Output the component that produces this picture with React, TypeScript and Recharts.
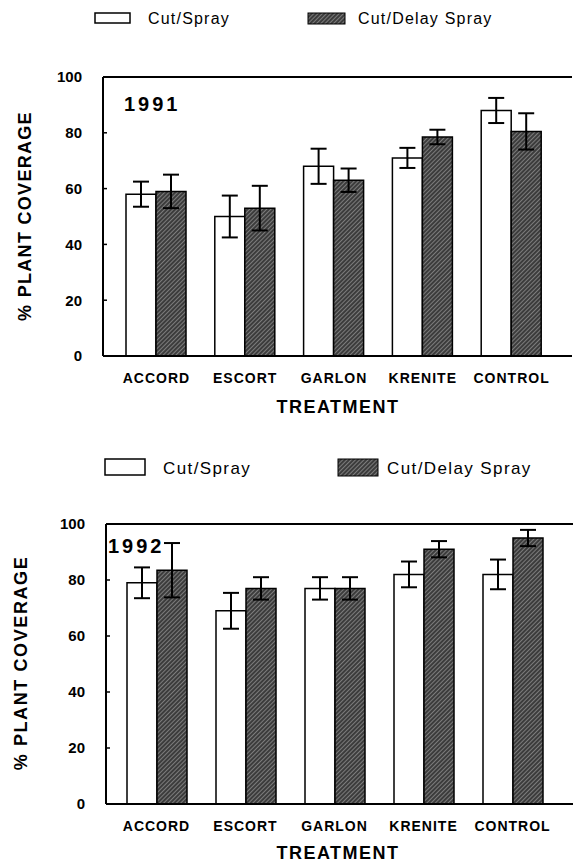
import React from 'react';
import { BarChart, Bar, XAxis, YAxis, ErrorBar, ReferenceLine } from 'recharts';

const categories = ['ACCORD', 'ESCORT', 'GARLON', 'KRENITE', 'CONTROL'];
const yTicks = [0, 20, 40, 60, 80, 100];

const cutSpray1991 = [58, 50, 68, 71, 88];
const cutSpray1991Err = [4.5, 7.5, 6.3, 3.6, 4.5];
const delaySpray1991 = [59, 53, 63, 78.5, 80.5];
const delaySpray1991Err = [6, 8, 4.2, 2.6, 6.5];

const cutSpray1992 = [79, 69, 77, 82, 82];
const cutSpray1992Err = [5.5, 6.4, 4, 4.6, 5.3];
const delaySpray1992 = [83.5, 77, 77, 91, 95];
const delaySpray1992Err = [9.7, 4, 4, 2.9, 2.9];

const data1991 = categories.map((c, i) => ({
  name: c,
  cut: cutSpray1991[i],
  cutErr: cutSpray1991Err[i],
  delay: delaySpray1991[i],
  delayErr: delaySpray1991Err[i],
}));
const data1992 = categories.map((c, i) => ({
  name: c,
  cut: cutSpray1992[i],
  cutErr: cutSpray1992Err[i],
  delay: delaySpray1992[i],
  delayErr: delaySpray1992Err[i],
}));

const FONT = 'Liberation Sans, Arial, Helvetica, sans-serif';

const Hatch = ({ id }: { id: string }) => (
  <defs>
    <pattern id={id} patternUnits="userSpaceOnUse" width="3" height="3" patternTransform="rotate(45)">
      <rect width="3" height="3" fill="#3c3c3c" />
      <line x1="0" y1="0" x2="0" y2="3" stroke="#a8a8a8" strokeWidth="1.2" />
    </pattern>
  </defs>
);

type PanelProps = {
  data: any[];
  id: string;
  height: number;
  top: number;
  bottom: number;
  left: number;
  right: number;
  padLeft: number;
  padRight: number;
};

const Panel = ({ data, id, height, top, bottom, left, right, padLeft, padRight }: PanelProps) => (
  <BarChart
    width={573}
    height={height}
    data={data}
    margin={{ top, right, bottom, left: 0 }}
    barSize={30}
    barGap={0}
  >
    <Hatch id={id} />
    <XAxis
      dataKey="name"
      height={30}
      tickLine={false}
      tickSize={0}
      tickMargin={17}
      padding={{ left: padLeft, right: padRight }}
      axisLine={{ stroke: '#000', strokeWidth: 2 }}
      tick={{ fontSize: 14, fontWeight: 'bold', fill: '#000', fontFamily: FONT, letterSpacing: 1 }}
      interval={0}
    />
    <YAxis
      width={left}
      domain={[0, 100]}
      ticks={yTicks}
      interval={0}
      tickSize={-4}
      tickMargin={25}
      axisLine={{ stroke: '#000', strokeWidth: 2 }}
      tickLine={{ stroke: '#000', strokeWidth: 1.5 }}
      tick={{ fontSize: 15, fontWeight: 'bold', fill: '#000', fontFamily: FONT }}
    />
    <YAxis
      yAxisId="right"
      orientation="right"
      width={0}
      domain={[0, 100]}
      tick={false}
      tickLine={false}
      axisLine={{ stroke: '#999', strokeWidth: 1, strokeDasharray: '3 3' }}
    />
    <ReferenceLine y={100} stroke="#000" strokeWidth={2} />
    <Bar dataKey="cut" fill="#fff" stroke="#000" strokeWidth={1.5} isAnimationActive={false}>
      <ErrorBar dataKey="cutErr" width={8} stroke="#000" strokeWidth={2} isAnimationActive={false} />
    </Bar>
    <Bar dataKey="delay" fill={`url(#${id})`} stroke="#000" strokeWidth={1.5} isAnimationActive={false}>
      <ErrorBar dataKey="delayErr" width={8} stroke="#000" strokeWidth={2} isAnimationActive={false} />
    </Bar>
  </BarChart>
);

export default function App() {
  return (
    <div style={{ position: 'absolute', left: 0, top: 0, width: 573, height: 863, background: '#fff', overflow: 'hidden' }}>
      <div style={{ position: 'absolute', left: 0, top: 0 }}>
        <Panel data={data1991} id="hatch1" height={420} top={77} bottom={34} left={103} right={1} padLeft={9} padRight={16} />
      </div>
      <div style={{ position: 'absolute', left: 0, top: 440 }}>
        <Panel data={data1992} id="hatch2" height={423} top={84} bottom={29} left={106} right={0} padLeft={6} padRight={16} />
      </div>
      <svg
        width={573}
        height={863}
        style={{ position: 'absolute', left: 0, top: 0, pointerEvents: 'none' }}
        fontFamily={FONT}
      >
        <Hatch id="hatchL" />
        {/* top legend */}
        <rect x={95} y={13} width={35} height={10} fill="#fff" stroke="#000" strokeWidth={1.5} />
        <text x={148} y={24} fontSize={16} letterSpacing={1.2} fill="#000">Cut/Spray</text>
        <rect x={308} y={13} width={37} height={11} fill="url(#hatchL)" stroke="#000" strokeWidth={1} />
        <text x={358} y={24} fontSize={16} letterSpacing={1.2} fill="#000">Cut/Delay Spray</text>
        {/* bottom legend */}
        <rect x={105} y={459} width={40} height={16} fill="#fff" stroke="#000" strokeWidth={1.5} />
        <text x={163} y={474} fontSize={17} letterSpacing={1.4} fill="#000">Cut/Spray</text>
        <rect x={338} y={459} width={40} height={17} fill="url(#hatchL)" stroke="#000" strokeWidth={1} />
        <text x={387} y={474} fontSize={17} letterSpacing={1.4} fill="#000">Cut/Delay Spray</text>
        {/* year labels */}
        <text x={124} y={110.5} fontSize={20} fontWeight="bold" letterSpacing={3} fill="#000">1991</text>
        <text x={108} y={553} fontSize={20} fontWeight="bold" letterSpacing={3} fill="#000">1992</text>
        {/* x-axis titles */}
        <text x={338} y={412.5} fontSize={18} fontWeight="bold" letterSpacing={1.5} textAnchor="middle" fill="#000">TREATMENT</text>
        <text x={338} y={858.5} fontSize={18} fontWeight="bold" letterSpacing={1.5} textAnchor="middle" fill="#000">TREATMENT</text>
        {/* y-axis titles */}
        <text
          x={0}
          y={0}
          transform="translate(30.5,216) rotate(-90)"
          fontSize={18}
          fontWeight="bold"
          letterSpacing={1.3}
          textAnchor="middle"
          fill="#000"
        >
          % PLANT COVERAGE
        </text>
        <text
          x={0}
          y={0}
          transform="translate(26.5,663) rotate(-90)"
          fontSize={18}
          fontWeight="bold"
          letterSpacing={1.6}
          textAnchor="middle"
          fill="#000"
        >
          % PLANT COVERAGE
        </text>
      </svg>
    </div>
  );
}
